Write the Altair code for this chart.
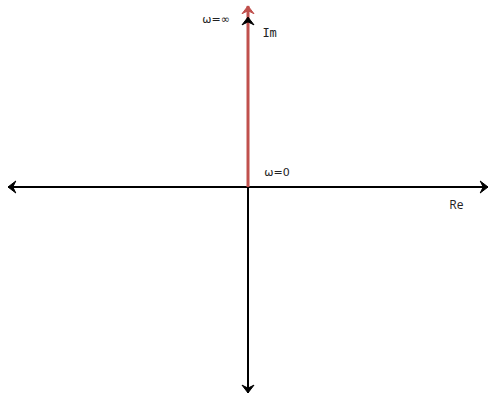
import altair as alt
import pandas as pd

# Axis segments and the Nyquist locus (data units: origin at 0)
seg_name = ["Re axis", "Im axis", "locus"]
seg_x = [-1.0, 0.0, 0.0]
seg_x2 = [1.0, 0.0, 0.0]
seg_y = [0.0, -1.144, 0.0]
seg_y2 = [0.0, 0.944, 1.006]
seg_color = ["#000000", "#000000", "#c0504d"]
seg_width = [2, 2, 3]

# Arrow tips
tip_x = [-1.0, 1.0, 0.0, 0.0, 0.0]
tip_y = [0.0, 0.0, -1.144, 0.944, 1.006]
tip_angle = [270, 90, 180, 0, 0]
tip_color = ["#000000", "#000000", "#000000", "#000000", "#c0504d"]

# Annotations
lab_text = ["ω=∞", "Im", "ω=0", "Re"]
lab_x = [-0.133, 0.09, 0.121, 0.868]
lab_y = [0.928, 0.856, 0.078, -0.1]
lab_font = ["DejaVu Sans", "DejaVu Sans Mono", "DejaVu Sans", "Open Sans"]
lab_size = [11, 12, 11, 12]

xs = alt.Scale(domain=[-248 / 240, 1.0], nice=False, zero=False)
ys = alt.Scale(domain=[-208 / 180, 187 / 180], nice=False, zero=False)

segs = pd.DataFrame(dict(name=seg_name, x=seg_x, x2=seg_x2, y=seg_y, y2=seg_y2,
                         color=seg_color, w=seg_width))
tips = pd.DataFrame(dict(x=tip_x, y=tip_y, angle=tip_angle, color=tip_color))
labs = pd.DataFrame(dict(text=lab_text, x=lab_x, y=lab_y))

rules = alt.Chart(segs).mark_rule().encode(
    x=alt.X("x:Q", scale=xs, axis=None),
    x2="x2:Q",
    y=alt.Y("y:Q", scale=ys, axis=None),
    y2="y2:Q",
    color=alt.Color("color:N", scale=None),
    strokeWidth=alt.StrokeWidth("w:Q", scale=None),
)

# notched arrowhead, tip at the symbol origin
arrow = "M 0 0 L 1 1.3 L 0 0.8 L -1 1.3 Z"
heads = alt.Chart(tips).mark_point(
    shape=arrow, filled=True, size=144, strokeWidth=1, opacity=1
).encode(
    x=alt.X("x:Q", scale=xs, axis=None),
    y=alt.Y("y:Q", scale=ys, axis=None),
    angle=alt.Angle("angle:Q", scale=None),
    fill=alt.Fill("color:N", scale=None),
    stroke=alt.Stroke("color:N", scale=None),
)

def label(i):
    d = labs.iloc[[i]]
    return alt.Chart(d).mark_text(
        font=lab_font[i], fontSize=lab_size[i], color="#222222",
        align="center", baseline="middle"
    ).encode(
        x=alt.X("x:Q", scale=xs, axis=None),
        y=alt.Y("y:Q", scale=ys, axis=None),
        text="text:N",
    )

chart = alt.layer(rules, heads, *[label(i) for i in range(len(lab_text))]).properties(
    width=488, height=395, padding=0, autosize=alt.AutoSizeParams(type="none"),
    background="white",
).configure_view(strokeWidth=0)

chart.save("out.html", embed_options={"renderer": "svg", "actions": False})
